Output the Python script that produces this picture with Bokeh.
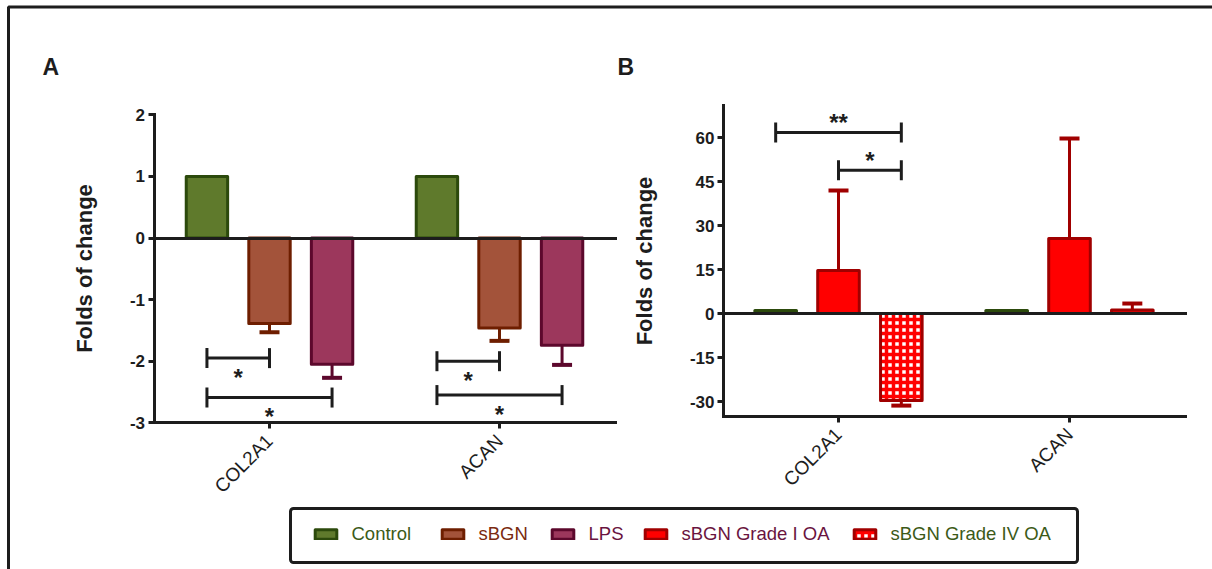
from math import pi

from bokeh.core.properties import value
from bokeh.embed import file_html
from bokeh.models import (BoxAnnotation, ColumnDataSource, FixedTicker, Label,
                          Legend, LegendItem, LinearAxis, Range1d)
from bokeh.plotting import figure
from bokeh.resources import INLINE

# ---------------------------------------------------------------- data
genes = ["COL2A1", "ACAN"]
gene_ticks = [1, 2]

# Panel A: folds of change (mean and one-sided error)
a_control = [1.0, 1.0]
a_control_err = [0.0, 0.0]
a_sbgn = [-1.39, -1.46]
a_sbgn_err = [0.14, 0.21]
a_lps = [-2.05, -1.74]
a_lps_err = [0.22, 0.32]

# Panel B: folds of change (mean and one-sided error)
b_control = [1.0, 1.0]
b_control_err = [0.0, 0.0]
b_grade1 = [14.7, 25.6]
b_grade1_err = [27.2, 34.1]
b_grade4 = [-29.7, 1.2]
b_grade4_err = [1.7, 2.2]

a_yticks = [-3, -2, -1, 0, 1, 2]
b_yticks = [-30, -15, 0, 15, 30, 45, 60]

# significance brackets: (gene index, from group, to group, bracket level, mark)
a_sig = [(0, 0, 1, -1.95, "*"), (0, 0, 2, -2.59, "*"),
         (1, 0, 1, -2.00, "*"), (1, 0, 2, -2.55, "*")]
b_sig = [(0, 0, 2, 61.7, "**"), (0, 1, 2, 48.8, "*")]

# ---------------------------------------------------------------- styling
W, H = 1212, 569
FONT = "Liberation Sans"
INK = "#1d1d1d"
OFFSETS = [-0.272, 0.0, 0.272]
BAR_W = 0.18

GREEN = ("#5f7a2c", "#2c4a0c")
BROWN = ("#a3533a", "#6e1e00")
PLUM = ("#9c375c", "#5c082c")
RED = ("#ff0000", "#a00000")

p = figure(width=W, height=H, x_range=Range1d(0, W), y_range=Range1d(H, 0),
           x_axis_type=None, y_axis_type=None, output_backend="svg",
           toolbar_location=None, min_border=0, outline_line_color=None,
           background_fill_color="white", border_fill_color="white")


def make_ranges(cat_px, cat_step, zero_px, unit_px):
    """Ranges spanning the canvas so that gene 1 sits at cat_px and y=0 at zero_px."""
    x0 = gene_ticks[0] - cat_px / cat_step
    y0 = -(H - zero_px) / unit_px
    return Range1d(x0, x0 + W / cat_step), Range1d(y0, y0 + H / unit_px)


# panel frames: gene-1 x, gene spacing, y=0 position, pixels per unit, axis extents
PANELS = {
    "a": dict(cat_px=269, cat_step=230, zero_px=237.5, unit_px=61.6,
              left_px=153.5, right_px=615, ybounds=(-3, 2)),
    "b": dict(cat_px=838, cat_step=231, zero_px=313, unit_px=44 / 15,
              left_px=723, right_px=1185, ybounds=(-35, 71)),
}

xr, yr = {}, {}
for name, g in PANELS.items():
    xr[name], yr[name] = make_ranges(g["cat_px"], g["cat_step"], g["zero_px"], g["unit_px"])
p.extra_x_ranges = xr
p.extra_y_ranges = yr


def px_to_x(name, px):
    g = PANELS[name]
    return gene_ticks[0] + (px - g["cat_px"]) / g["cat_step"]


def style_axis(ax):
    ax.axis_line_width = 3
    ax.axis_line_color = INK
    ax.axis_line_cap = "square"
    ax.major_tick_line_width = 3
    ax.major_tick_line_color = INK
    ax.major_tick_out = 6
    ax.major_tick_in = 0
    ax.minor_tick_line_color = None
    ax.major_label_text_font = FONT
    ax.major_label_text_color = INK


def draw_panel(name, series, sig, yticks, star_dy_px):
    g = PANELS[name]
    cs, us = g["cat_step"], g["unit_px"]
    rn = dict(x_range_name=name, y_range_name=name)
    renderers = []
    for k, (vals, errs, (fill, edge), extra) in enumerate(series):
        xs = [t + OFFSETS[k] for t in gene_ticks]
        src = ColumnDataSource(dict(x=xs, top=vals))
        ex = [x for x, e in zip(xs, errs) if e > 0]
        ev = [v for v, e in zip(vals, errs) if e > 0]
        ee = [v + e if v >= 0 else v - e for v, e in zip(vals, errs) if e > 0]
        cap = 10 / cs
        esrc = ColumnDataSource(dict(x=ex, v=ev, end=ee,
                                     cl=[x - cap for x in ex], cr=[x + cap for x in ex]))
        p.segment(x0="x", y0="v", x1="x", y1="end", source=esrc, line_color=edge,
                  line_width=3, **rn)
        p.segment(x0="cl", y0="end", x1="cr", y1="end", source=esrc, line_color=edge,
                  line_width=4, **rn)
        r = p.vbar(x="x", top="top", bottom=0, width=BAR_W, source=src, fill_color=fill,
                   line_color=edge, line_width=3, line_join="round", **extra, **rn)
        renderers.append(r)

    # significance brackets
    tick = 10 / us
    bx0, bx1, by, sx, sy, marks = [], [], [], [], [], []
    for gi, ga, gb, level, mark in sig:
        x0 = gene_ticks[gi] + OFFSETS[ga]
        x1 = gene_ticks[gi] + OFFSETS[gb]
        bx0.append(x0)
        bx1.append(x1)
        by.append(level)
        sx.append((x0 + x1) / 2)
        sy.append(level - star_dy_px / us)
        marks.append(mark)
    bsrc = ColumnDataSource(dict(x0=bx0, x1=bx1, y=by, lo=[y - tick for y in by],
                                 hi=[y + tick for y in by], sx=sx, sy=sy, mark=marks))
    p.segment(x0="x0", y0="y", x1="x1", y1="y", source=bsrc, line_color=INK, line_width=3, **rn)
    p.segment(x0="x0", y0="lo", x1="x0", y1="hi", source=bsrc, line_color=INK, line_width=3, **rn)
    p.segment(x0="x1", y0="lo", x1="x1", y1="hi", source=bsrc, line_color=INK, line_width=3, **rn)
    p.text(x="sx", y="sy", text="mark", source=bsrc, text_font=value(FONT),
           text_font_style="bold", text_font_size="24px", text_color=INK,
           text_align="center", text_baseline="middle", **rn)

    left, right = px_to_x(name, g["left_px"]), px_to_x(name, g["right_px"])
    ylo, yhi = g["ybounds"]

    yax = LinearAxis(fixed_location=left, bounds=(ylo, yhi), ticker=FixedTicker(ticks=yticks),
                     major_label_overrides={t: str(t) for t in yticks},
                     axis_label="Folds of change", **rn)
    style_axis(yax)
    yax.major_label_text_font_style = "bold"
    yax.major_label_text_font_size = "17px"
    yax.major_label_standoff = 3
    yax.axis_label_text_font = FONT
    yax.axis_label_text_font_style = "bold"
    yax.axis_label_text_font_size = "22px"
    yax.axis_label_text_color = INK
    yax.axis_label_standoff = 30
    p.add_layout(yax, "left")

    xax = LinearAxis(fixed_location=ylo, bounds=(left, right),
                     ticker=FixedTicker(ticks=gene_ticks),
                     major_label_overrides={t: s for t, s in zip(gene_ticks, genes)}, **rn)
    style_axis(xax)
    xax.major_label_text_font_size = "19px"
    xax.major_label_orientation = pi / 4
    xax.major_label_standoff = 9
    p.add_layout(xax, "below")

    zax = LinearAxis(fixed_location=0, bounds=(left, right), ticker=FixedTicker(ticks=[]), **rn)
    style_axis(zax)
    zax.major_tick_line_color = None
    p.add_layout(zax, "below")
    return renderers


ra = draw_panel("a", [(a_control, a_control_err, GREEN, {}),
                      (a_sbgn, a_sbgn_err, BROWN, {}),
                      (a_lps, a_lps_err, PLUM, {})], a_sig, a_yticks, star_dy_px=19)

# Grade IV bars: white ground with a fine red square lattice
grade4_hatch = dict(hatch_pattern="cross", hatch_color="#ff0000", hatch_alpha=1.0,
                    hatch_scale=7, hatch_weight=3.5)
rb = draw_panel("b", [(b_control, b_control_err, GREEN, {}),
                      (b_grade1, b_grade1_err, RED, {}),
                      (b_grade4, b_grade4_err, ("white", RED[1]), grade4_hatch)],
                b_sig, b_yticks, star_dy_px=-10)

# panel letters
for letter, x in (("A", 42), ("B", 617)):
    p.add_layout(Label(x=x, y=66, text=letter, text_font=FONT, text_font_style="bold",
                       text_font_size="23px", text_color=INK, text_baseline="alphabetic"))

# outer frame and legend box
p.add_layout(BoxAnnotation(left=8, right=1230, top=6.5, bottom=600, fill_alpha=0,
                           line_color=INK, line_alpha=1, line_width=3, level="overlay"))
p.add_layout(BoxAnnotation(left=290, right=1077, top=508, bottom=562, fill_alpha=0,
                           line_color=INK, line_alpha=1, line_width=3, border_radius=3,
                           level="overlay"))

legend_entries = [
    ("Control", ra[0], "#3c5a18", 310),
    ("sBGN", ra[1], "#7a2a10", 437),
    ("LPS", ra[2], "#6a1440", 547),
    ("sBGN Grade I OA", rb[1], "#6a1440", 640),
    ("sBGN Grade IV OA", rb[2], "#3c5a18", 849),
]
for label, r, color, x in legend_entries:
    leg = Legend(items=[LegendItem(label=label, renderers=[r])], location=(x + 1.5, 24),
                 orientation="horizontal", padding=0, margin=0, spacing=0,
                 border_line_color=None, background_fill_alpha=0,
                 glyph_width=27, glyph_height=12, label_standoff=13,
                 label_text_font=FONT, label_text_font_size="18.5px",
                 label_text_color=color, label_height=12)
    p.add_layout(leg, "center")

open("out.html", "w").write(file_html(p, INLINE))
